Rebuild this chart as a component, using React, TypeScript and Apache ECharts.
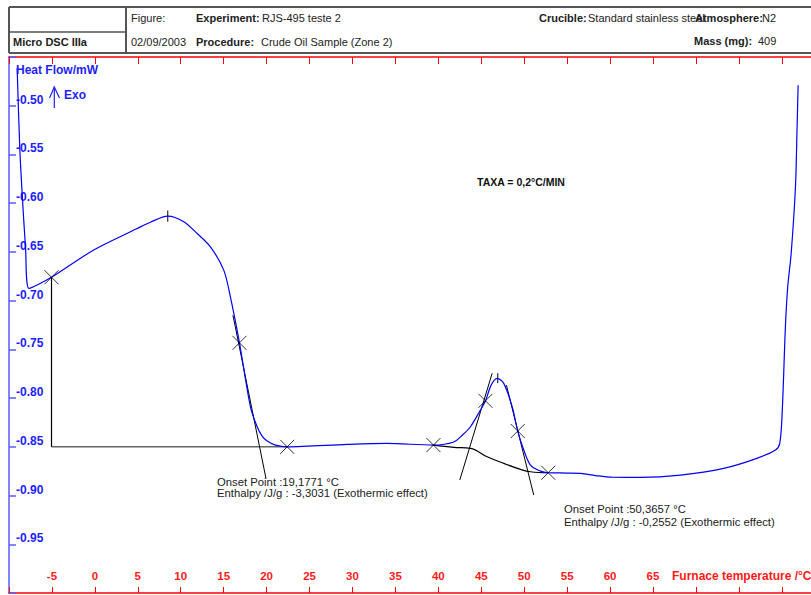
import React, { useEffect, useRef } from "react";
import * as echarts from "echarts";

// ---- Data (furnace temperature °C, heat flow mW) ----
const curveTemp = [
  -9.05, -8.75, -8.47, -8.08, -7.67, -5.05, -0.13, 4.93, 6.47, 8.49, 10.35, 11.91, 13.46, 15.01,
  15.79, 16.84, 18.12, 18.9, 19.48, 20.07, 21.03, 22.4, 29.4, 34.0, 39.43, 41.8, 42.81, 43.74,
  44.9, 45.49, 46.15, 46.85, 47.62, 48.6, 49.25, 49.95, 50.73, 51.9, 52.8, 54.92, 56.6, 58.3,
  60.2, 63.5, 68.2, 73.24, 77.1, 79.26, 79.76, 80.04, 80.42, 80.69, 81.09, 81.59, 81.78, 81.9,
];
const curveHeatFlow = [
  -0.4615, -0.5423, -0.5897, -0.6448, -0.6875, -0.676, -0.648, -0.626, -0.6195, -0.6133, -0.619,
  -0.6311, -0.6448, -0.6687, -0.6964, -0.7433, -0.809, -0.8294, -0.839, -0.8441, -0.8482, -0.85,
  -0.8475, -0.8465, -0.8482, -0.845, -0.8379, -0.8294, -0.8123, -0.8028, -0.7867, -0.7798, -0.7849,
  -0.8089, -0.8338, -0.8533, -0.8687, -0.8749, -0.8766, -0.8769, -0.8773, -0.8795, -0.8812, -0.8813,
  -0.879, -0.8721, -0.8618, -0.8533, -0.8465, -0.8157, -0.7269, -0.6858, -0.6516, -0.5833,
  -0.5217, -0.479,
];

// integration baseline of the second peak
const baseline2Temp = [39.43, 41.8, 43.74, 45.68, 47.62, 49.56, 50.73, 52.8];
const baseline2HeatFlow = [-0.8482, -0.8505, -0.8516, -0.8602, -0.867, -0.8731, -0.8756, -0.8766];

// first peak: vertical limit and flat baseline
const limit1Temp = [-5.05, -5.05];
const limit1HeatFlow = [-0.676, -0.85];
const baseline1Temp = [-5.05, 22.4];
const baseline1HeatFlow = [-0.85, -0.85];

// tangents
const tangent1Temp = [16.08, 19.93];
const tangent1HeatFlow = [-0.7149, -0.8826];
const tangent2aTemp = [42.5, 46.27];
const tangent2aHeatFlow = [-0.884, -0.7745];
const tangent2bTemp = [47.93, 51.11];
const tangent2bHeatFlow = [-0.7867, -0.8995];

// peak tick marks
const peak1Temp = [8.49, 8.49];
const peak1HeatFlow = [-0.6075, -0.619];
const peak2Temp = [46.92, 46.92];
const peak2HeatFlow = [-0.7744, -0.7846];

// cross markers
const markerTemp = [-5.05, 16.84, 22.4, 39.43, 45.49, 49.25, 52.8];
const markerHeatFlow = [-0.676, -0.7433, -0.85, -0.8482, -0.8028, -0.8338, -0.8766];

const FONT = "'Liberation Sans', Arial, sans-serif";

const zip = (xs: number[], ys: number[]) => xs.map((x, i) => [x, ys[i]]);

const lineSeries = (xs: number[], ys: number[], color: string, width = 1, smooth: number | boolean = false, z = 2) => ({
  type: "line",
  data: zip(xs, ys),
  showSymbol: false,
  symbol: "none",
  smooth,
  silent: true,
  z,
  lineStyle: { color, width },
});

export default function App() {
  const ref = useRef<HTMLDivElement>(null);
  useEffect(() => {
    if (!ref.current) return;
    const chart = echarts.init(ref.current, undefined, { renderer: "svg" });
    const headerText = (x: number, y: number, text: string, bold = false, size = 11) => ({
      type: "text",
      x,
      y,
      style: {
        text,
        fill: "#222",
        font: `${bold ? "bold " : ""}${size}px ${FONT}`,
        textVerticalAlign: "middle",
      },
      z: 10,
    });
    const hline = (x1: number, y: number, x2: number, w = 2, color = "#555") => ({
      type: "line",
      shape: { x1, y1: y, x2, y2: y },
      style: { stroke: color, lineWidth: w },
    });
    const vline = (x: number, y1: number, y2: number, w = 2, color = "#555") => ({
      type: "line",
      shape: { x1: x, y1, x2: x, y2 },
      style: { stroke: color, lineWidth: w },
    });

    const xMax = 83.4;
    chart.setOption({
      animation: false,
      backgroundColor: "#ffffff",
      grid: { left: 9, top: 57, right: 0, height: 536 },
      xAxis: [
        {
          type: "value",
          position: "bottom",
          min: -10,
          max: xMax,
          interval: 5,
          axisLine: { show: true, onZero: false, lineStyle: { color: "#ff0000", width: 1.5 } },
          axisTick: { show: true, inside: true, length: 6, lineStyle: { color: "#ff0000", width: 1 } },
          axisLabel: {
            inside: true,
            margin: 11,
            color: "#ff1a1a",
            fontWeight: "bold",
            fontSize: 11.5,
            fontFamily: FONT,
            showMaxLabel: false,
            formatter: (v: number) => {
              const r = Math.round(v);
              return r >= -5 && r <= 65 ? String(r) : "";
            },
          },
          splitLine: { show: false },
        },
        {
          type: "value",
          position: "top",
          min: -10,
          max: xMax,
          interval: 5,
          axisLine: { show: true, onZero: false, lineStyle: { color: "#ff0000", width: 1.5 } },
          axisTick: { show: true, inside: true, length: 7, lineStyle: { color: "#ff0000", width: 1 } },
          axisLabel: { show: false },
          splitLine: { show: false },
        },
      ],
      yAxis: {
        type: "value",
        min: -1.0,
        max: -0.45,
        interval: 0.05,
        axisLine: { show: true, onZero: false, lineStyle: { color: "#5b5bff", width: 1.5 } },
        axisTick: { show: true, inside: true, length: 7, lineStyle: { color: "#5b5bff", width: 1.5 } },
        axisLabel: {
          inside: true,
          margin: 7,
          verticalAlign: "bottom",
          color: "#1e1eff",
          fontWeight: "bold",
          fontSize: 12,
          fontFamily: FONT,
          formatter: (v: number) => (v > -0.98 && v < -0.47 ? v.toFixed(2) : ""),
        },
        splitLine: { show: false },
      },
      series: [
        lineSeries(baseline1Temp, baseline1HeatFlow, "#666666", 1.5),
        lineSeries(limit1Temp, limit1HeatFlow, "#000000", 1.2),
        lineSeries(tangent1Temp, tangent1HeatFlow, "#000000", 1),
        lineSeries(tangent2aTemp, tangent2aHeatFlow, "#000000", 1),
        lineSeries(tangent2bTemp, tangent2bHeatFlow, "#000000", 1),
        lineSeries(baseline2Temp, baseline2HeatFlow, "#000000", 1.2, 0.4),
        lineSeries(curveTemp, curveHeatFlow, "#0000ff", 1.2, 0.3, 3),
        lineSeries(peak1Temp, peak1HeatFlow, "#000000", 1),
        lineSeries(peak2Temp, peak2HeatFlow, "#000000", 1),
        {
          type: "scatter",
          data: zip(markerTemp, markerHeatFlow),
          symbol: "path://M0 0L10 10M10 0L0 10",
          symbolSize: 14,
          silent: true,
          z: 5,
          itemStyle: { color: "none", borderColor: "#000000", borderWidth: 1 },
        },
      ],
      graphic: [
        // header table
        hline(9, 7, 811),
        hline(9, 53, 811),
        vline(9, 7, 53),
        vline(126, 7, 54),
        hline(9, 32, 126, 1.5),
        headerText(131, 18, "Figure:"),
        headerText(196, 18, "Experiment:", true),
        headerText(262, 18, "RJS-495 teste 2"),
        headerText(13, 42, "Micro DSC IIIa", true),
        headerText(131, 42, "02/09/2003"),
        headerText(196, 42, "Procedure:", true),
        headerText(261, 42, "Crude Oil Sample (Zone 2)"),
        headerText(539, 18, "Crucible:", true),
        headerText(588, 18, "Standard stainless steel"),
        headerText(695, 18, "Atmosphere:", true),
        headerText(762, 18, "N2"),
        headerText(694, 41, "Mass (mg):", true),
        headerText(758, 41, "409"),
        // axis titles
        {
          type: "text",
          x: 16,
          y: 70,
          style: { text: "Heat Flow/mW", fill: "#1e1eff", font: `bold 12px ${FONT}`, textVerticalAlign: "middle" },
          z: 10,
        },
        {
          type: "line",
          shape: { x1: 54.3, y1: 87, x2: 54.3, y2: 108 },
          style: { stroke: "#1e1eff", lineWidth: 1.2 },
        },
        {
          type: "polyline",
          shape: { points: [[49.5, 98], [54.3, 87], [59.5, 98]] },
          style: { stroke: "#1e1eff", lineWidth: 1.2, fill: "none" },
        },
        {
          type: "text",
          x: 64,
          y: 95,
          style: { text: "Exo", fill: "#1e1eff", font: `bold 12px ${FONT}`, textVerticalAlign: "middle" },
          z: 10,
        },
        {
          type: "text",
          x: 672,
          y: 576,
          style: { text: "Furnace temperature /°C", fill: "#ff1a1a", font: `bold 12px ${FONT}`, textVerticalAlign: "middle" },
          z: 10,
        },
        // annotations
        {
          type: "text",
          x: 477,
          y: 182,
          style: { text: "TAXA = 0,2°C/MIN", fill: "#111", font: `bold 10.5px ${FONT}`, textVerticalAlign: "middle" },
          z: 10,
        },
        {
          type: "text",
          x: 217,
          y: 481.5,
          style: { text: "Onset Point :19,1771 °C", fill: "#222", font: `11.3px ${FONT}`, textVerticalAlign: "middle" },
          z: 10,
        },
        {
          type: "text",
          x: 217,
          y: 493,
          style: { text: "Enthalpy /J/g : -3,3031 (Exothermic effect)", fill: "#222", font: `11.3px ${FONT}`, textVerticalAlign: "middle" },
          z: 10,
        },
        {
          type: "text",
          x: 564,
          y: 509,
          style: { text: "Onset Point :50,3657 °C", fill: "#222", font: `11.3px ${FONT}`, textVerticalAlign: "middle" },
          z: 10,
        },
        {
          type: "text",
          x: 564,
          y: 522,
          style: { text: "Enthalpy /J/g : -0,2552 (Exothermic effect)", fill: "#222", font: `11.3px ${FONT}`, textVerticalAlign: "middle" },
          z: 10,
        },
      ],
    });
    return () => chart.dispose();
  }, []);
  return (
    <div
      ref={ref}
      style={{ position: "fixed", left: 0, top: 0, width: 811, height: 595, overflow: "hidden", background: "#fff" }}
    />
  );
}
